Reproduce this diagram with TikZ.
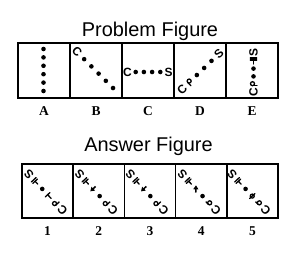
\documentclass[tikz,border=0pt]{standalone}
\usepackage{fontspec}
\setmainfont{Liberation Serif}
\setsansfont{Liberation Sans}
\usepackage{tikz}
\usetikzlibrary{positioning,arrows.meta,calc}
\tikzset{
  panel/.style   = {draw, line width=1.6bp, inner sep=0pt, outer sep=0pt},
  prob/.style    = {panel, minimum width=52bp, minimum height=55bp},
  ans/.style     = {panel, minimum width=51.2bp, minimum height=54bp},
  heading/.style = {font=\sffamily\fontsize{20}{24}\selectfont, anchor=base, inner sep=0pt},
  tag/.style     = {font=\bfseries\fontsize{13.5}{15}\selectfont, inner sep=0pt},
  glyph/.style   = {font=\sffamily\bfseries\fontsize{12}{12}\selectfont, inner sep=0pt},
  pen/.style     = {line width=1.3bp, line cap=round},
  pics/dt/.style  = {code={\fill (0,0) circle (2.3);}},
  pics/lc/.style  = {code={\node[glyph, transform shape] {C};}},
  pics/ls/.style  = {code={\node[glyph, transform shape] {S};}},
  pics/rh/.style  = {code={\draw[pen] (0.5,1) circle (2); \draw[pen] (-1.5,1) -- (-1.5,-3.5);}},
  pics/sg/.style  = {code={\draw[pen] (0,-0.6) circle (2); \draw[pen] (0,1.4) -- (3.2,1.4);}},
  pics/tb/.style  = {code={\draw[pen] (-3.2,0) -- (0.7,0); \draw[pen] (0.7,-3.2) -- (0.7,3.2); \draw[pen] (2.7,-3.2) -- (2.7,3.2);}},
  pics/tt/.style  = {code={\draw[pen] (-3.2,0) -- (1.9,0); \draw[pen] (1.9,-3.2) -- (1.9,3.2);}},
  pics/arl/.style = {code={\draw[line width=1.5bp, -{Triangle[length=4bp,width=5bp]}] (0,-3.6) -- (0,3.6);}},
  pics/aru/.style = {code={\draw[line width=1.5bp, -{Triangle[length=4bp,width=5bp]}] (135:3.6) -- (-45:3.6);}},
  pics/ph/.style  = {code={\draw[pen] (0,0) circle (2); \draw[pen] (0,-3.6) -- (0,3.6);}},
}
% row of six marks along a line through a panel
\newcommand{\chainof}[5]{%
  \foreach \g [count=\i from 0] in {#5}
    \pic[rotate=#3] at ($(#1)+(#2)+(#3:{(\i-2.5)*#4})$) {\g};
}

\begin{document}
\begin{tikzpicture}[x=1bp, y=1bp]
  \useasboundingbox (0,0) rectangle (300,260);
  % problem figures
  \node[heading] (ttl1) at (150,224) {Problem Figure};
  \node[prob] (pA) at (44,189.5) {};
  \node[prob, right=0pt of pA] (pB) {};
  \node[prob, right=0pt of pB] (pC) {};
  \node[prob, right=0pt of pC] (pD) {};
  \node[prob, right=0pt of pD] (pE) {};
  \node[tag, below=8bp of pA] (lA) {A};
  \node[tag, below=8bp of pB] (lB) {B};
  \node[tag, below=8bp of pC] (lC) {C};
  \node[tag, below=8bp of pD] (lD) {D};
  \node[tag, below=8bp of pE] (lE) {E};
  \chainof{pA}{-0.5,0.5}{-90}{8.4}{dt,dt,dt,dt,dt,dt}
  \chainof{pB}{-1,0.5}{-45}{10.2}{lc,dt,dt,dt,dt,dt}
  \chainof{pC}{0,-1.5}{0}{8.2}{lc,dt,dt,dt,dt,ls}
  \chainof{pD}{0.5,-1}{44}{10.2}{lc,rh,dt,dt,dt,ls}
  \chainof{pE}{1.5,-2}{90}{7.8}{lc,rh,dt,dt,tb,ls}
  % answer figures
  \node[heading] (ttl2) at (148.5,109) {Answer Figure};
  \node[ans] (q1) at (47.6,69) {};
  \node[ans, right=0pt of q1] (q2) {};
  \node[ans, right=0pt of q2] (q3) {};
  \node[ans, right=0pt of q3] (q4) {};
  \node[ans, right=0pt of q4] (q5) {};
  \node[tag, below=8bp of q1] (l1) {1};
  \node[tag, below=8bp of q2] (l2) {2};
  \node[tag, below=8bp of q3] (l3) {3};
  \node[tag, below=8bp of q4] (l4) {4};
  \node[tag, below=8bp of q5] (l5) {5};
  \chainof{q1}{-2,-1.5}{133}{9.8}{lc,rh,tt,dt,tb,ls}
  \chainof{q2}{-2.5,-1.5}{133}{9.8}{lc,rh,dt,arl,tb,ls}
  \chainof{q3}{-3,-1.5}{133}{9.8}{lc,rh,dt,arl,tb,ls}
  \chainof{q4}{-2,-1.5}{133}{9.8}{lc,sg,dt,aru,tb,ls}
  \chainof{q5}{-3.5,-1.5}{133}{9.8}{lc,sg,ph,dt,tb,ls}
\end{tikzpicture}
\end{document}
